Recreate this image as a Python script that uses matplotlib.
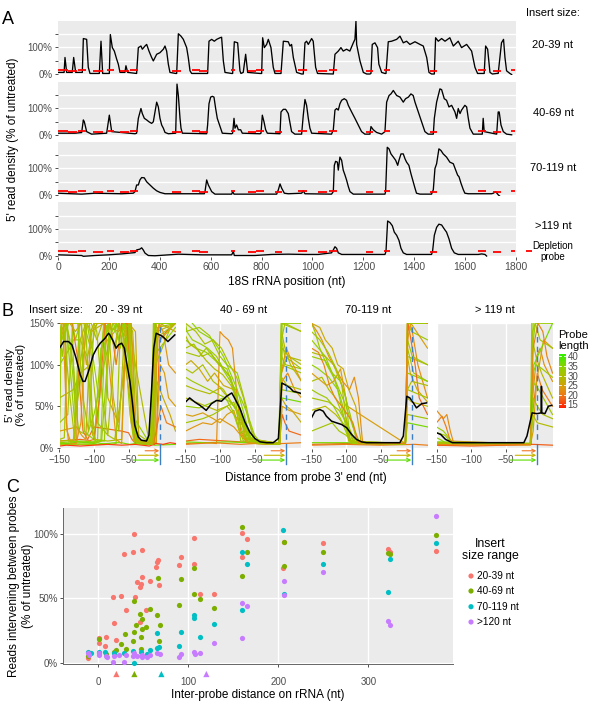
import matplotlib
matplotlib.use("Agg")
import matplotlib.pyplot as plt
import matplotlib.transforms as mtransforms
from matplotlib.colors import LinearSegmentedColormap, Normalize
import numpy as np

plt.rcParams["font.family"] = ["Liberation Sans", "DejaVu Sans"]

# ---------------- Panel A data ----------------
a_labels = ["20-39 nt", "40-69 nt", "70-119 nt", ">119 nt"]
a1_pos = [1,17,24,27.5,34,54,56,61.6,69.4,93,95.6,99.6,112.6,119,125.8,158.5,162.4,169,175.5,197.8,201.7,205.7,213.5,221.4,230.5,237,243.7,263,267,273.8,309,315.7,326,331.4,341.9,348.5,357.6,368,374.6,387.8,400.8,414,420.5,427,433.6,440,462.4,466.4,473,483.4,492.6,505.6,512,518.8,525.3,584.3,588,593.4,603.9,614.4,623.6,636.7,643,649.8,656.3,682.5,686.4,693,706,708.7,715,719,728,737.5,745.4,794,800.4,804.3,810.9,820,826.6,837,846,852.8,872.5,876.4,885.6,905,911.7,918,924.8,937.9,957.5,964,970.6,977,983.7,996.8,1003,1012.5,1020,1075,1082,1088.5,1101.6,1112,1121,1134,1147,1160.6,1167,1171,1173.7,1186.8,1199.9,1213,1226,1230,1235,1245.7,1256,1261,1272,1285,1289,1298,1311,1331,1344,1357,1370,1383,1403,1422.6,1435.6,1449,1458,1468,1479,1484,1494.6,1507.7,1521,1540,1553.6,1573,1586,1606,1625.6,1638.7,1649,1671,1675,1680.6,1688.5,1697.7,1707,1724,1730,1743,1751,1756.6,1763,1776,1783]
a1_val = [6,6,6,62,6,6,6,62,6,6,6,133,130,25,2,2,2,123,2,2,2,148,99,86,56,37,6,6,31,6,2,99,105,93,105,111,86,62,49,74,80,93,105,86,37,6,2,2,151,142,130,99,62,12,2,2,2,123,130,123,130,136,138,49,6,2,2,121,117,86,12,2,6,74,6,2,2,136,99,111,130,99,25,2,2,2,123,121,105,111,62,6,0,0,117,123,111,133,123,25,2,0,0,74,86,99,86,93,86,117,130,198,111,49,6,0,0,2,111,117,99,37,6,2,2,121,123,130,142,117,123,111,121,111,105,62,6,0,0,136,123,133,123,136,105,123,99,111,86,25,2,2,2,105,93,6,0,2,2,117,130,62,12,2,-2]

a2_pos = [1.3,66.8,93,99.6,103.5,112.6,132,191.2,201.7,211,302.6,309,315.7,326,331.4,339.3,348.5,357.6,368,374.6,381,387.8,394.3,400.8,407.4,414,420.5,433.6,462.4,467.7,473,479.5,483.4,488.6,584.3,588,593.4,600,606.5,613,619.6,626,632.7,639,645.8,682.5,686.4,691.7,695.6,702,708.7,717.9,724.4,794,797.8,803,809.6,816,822.7,872.5,876.4,885.6,894.7,905,912,918,931,957.5,964,970.6,977,983.7,990,997,1075,1082,1088.5,1095,1101.6,1108,1114.7,1125,1134,1141,1154,1167,1180,1193,1206,1226,1230,1239,1252,1272,1285,1291.6,1301,1308.6,1317.8,1331,1344,1357,1366,1377,1387,1396,1403,1416,1429,1442,1455,1475,1479,1488,1494.6,1501,1507.7,1518,1527,1536.5,1547,1560,1566.7,1573,1580,1586,1599,1606,1612.5,1619,1632,1667.5,1671,1675,1724,1730,1734,1741,1750,1763,1783]
a2_val = [6,6,8.6,56,49,12,2.5,6,74,12,4,6,62,99,80,62,56,49,43,49,86,123,105,62,37,25,9,4,6,191,148,62,25,6,4,37,117,142,145,142,99,62,43,25,6,4,6,62,25,37,19,19,6,4,6,74,49,19,6,4,86,96,96,80,43,12,2.5,2.5,74,133,111,62,25,6,2.5,19,93,99,93,117,130,136,130,111,86,62,37,12,2.5,2.5,31,19,9,2.5,12,123,148,154,167,148,142,123,136,142,154,148,123,86,49,12,2.5,2.5,62,123,148,173,170,136,130,105,111,86,62,99,80,93,111,105,62,25,2.5,2.5,62,12,2.5,86,86,37,12,2.5,0]

a3_pos = [1.3,93,145,250,296,302.6,309,315.7,322,328.8,339,348.5,361.5,374.6,387.8,400.8,420.5,575,577.7,584.3,590.8,604,617,682.5,686.4,691.7,859.4,866,872.5,879,889.5,905,957.5,964,970.6,1075,1082,1086,1091,1098,1101.6,1108,1114.7,1121,1128,1134,1141,1147.5,1160.6,1285,1287.6,1294,1301,1308.6,1318,1327,1335,1340,1348,1357,1363.6,1370,1379,1387,1396,1403,1409,1422.6,1468,1475,1481.5,1488,1497,1505,1514,1527,1540,1553.6,1563,1570.6,1576,1584,1593,1599,1612.5,1704,1711,1720,1730,1741]
a3_val = [6,2.5,6,4,6,12,37,37,56,65,64,49,37,25,15,9,4,4,12,56,37,12,2.5,2.5,12,2.5,2.5,19,41,25,6,4,6,15,4,2.5,12,111,126,123,93,142,130,93,74,56,31,12,2.5,2.5,12,179,173,154,142,130,111,130,154,154,136,123,111,80,49,25,6,2.5,2.5,19,99,117,173,167,154,142,123,117,93,74,68,43,19,6,4,4,6,12,0,-9]

a4_pos = [1.3,93,99.6,145,198,250,302.6,309,322,328.8,335,342,355,381,473,565,682.5,689,693,774,840,905,970.6,1023,1075,1082,1088.5,1095,1101.6,1115,1285,1289,1295.5,1304.7,1314,1321.7,1331,1340,1348,1357,1370,1468,1472,1479,1488,1497,1507.7,1518,1527,1536.5,1547,1557.5,1573,1652,1665,1678,1684.5]
a4_val = [2.5,0,-3,0,2.5,6,11,21,24,29,21,9,0,-1,5,2.5,2.5,15,0,0,4,5,4,4,10,21,33,27,10,4,4,15,130,124,112,88,76,57,27,10,4,4,15,76,106,118,115,100,88,63,27,10,4,4,6,4,-2]

probe_start = [1,38,77,139,191,244,283,447,525,554,679,748,778,853,944,1023,1065,1209,1282,1462,1649,1711,1779]
probe_end = [38,73,109,178,221,279,316,483,558,588,696,778,811,882,977,1056,1098,1239,1305,1488,1682,1741,1796]
probe_level = [16,12,16,12,16,12,16,12,16,12,16,12,16,12,16,12,16,12,16,12,16,12,16]

# ---------------- Panel B data ----------------
b_titles = ["20 - 39 nt", "40 - 69 nt", "70-119 nt", "> 119 nt"]

b1_len = [33,30,32,22,28,34,18,26,31,31,33,24,36,29,15,32,32,31,30,23,33,29,20,32,34,27]
b1_x = [
[-150,-140,-135,-128,-122,-110,-100,-88,-75,-60,-52,-45,-38,-20,-16,-12,18],
[-150,-143,-138,-130,-118,-105,-95,-80,-70,-58,-50,-44,-35,-18,-14,-10,18],
[-150,-132,-126,-115,-100,-92,-85,-70,-62,-55,-48,-42,-30,-16,-13,18],
[-150,-142,-140,-137,-125,-122,-110,-95,-70,-50,-46,-40,-20,-15,-12,-5,18],
[-150,-130,-120,-105,-102,-98,-80,-60,-55,-48,-42,-15,-11,0,18],
[-150,-100,-95,-90,-70,-65,-58,-50,-44,-40,-17,-14,18],
[-150,-120,-110,-100,-60,-50,-45,-40,-25,-10,-5,5,18],
[-150,-110,-105,-95,-85,-80,-65,-50,-40,-35,-20,-13,-9,0,10,18],
[-150,-148,-140,-130,-125,-118,-110,-100,-60,-52,-46,-42,-18,-12,18],
[-150,-90,-80,-75,-68,-62,-55,-48,-44,-38,-16,-12,-8,18],
[-150,-135,-130,-120,-110,-105,-98,-85,-78,-70,-60,-50,-45,-20,-15,-10,18],
[-150,-125,-118,-112,-105,-100,-90,-65,-58,-52,-46,-40,-14,-10,-4,2,8,18],
[-150,-140,-130,-120,-110,-100,-95,-90,-80,-70,-60,-55,-48,-40,-16,-13,18],
[-150,-125,-100,-75,-60,-50,-40,-20,-14,-9,18],
[-150,-140,-120,-100,-80,-60,-40,-30,-20,-10,0,10,18],
[-150,-118,-114,-108,-100,-92,-80,-60,-52,-46,-40,-17,-13,18],
[-150,-146,-140,-133,-127,-120,-112,-104,-96,-88,-80,-72,-64,-56,-48,-42,-36,-18,-14,-11,18],
[-150,-138,-131,-124,-116,-108,-100,-92,-84,-76,-68,-60,-50,-44,-40,-16,-12,18],
[-150,-144,-136,-128,-120,-112,-104,-96,-88,-80,-72,-64,-56,-50,-43,-17,-13,18],
[-150,-145,-139,-133,-126,-119,-112,-105,-98,-91,-84,-76,-68,-60,-53,-46,-40,-16,-12,-6,0,8,18],
[-150,-147,-141,-135,-128,-121,-114,-107,-100,-93,-86,-79,-72,-65,-58,-51,-46,-41,-16,-12,18],
[-150,-130,-120,-112,-104,-96,-88,-80,-72,-64,-56,-48,-42,-15,-11,18],
[-150,-142,-132,-124,-116,-108,-100,-92,-84,-76,-68,-60,-52,-45,-39,-14,-10,-3,5,18],
[-150,-145,-137,-129,-121,-113,-105,-97,-89,-81,-73,-65,-57,-49,-43,-17,-13,18],
[-150,-120,-100,-90,-85,-80,-74,-68,-62,-56,-50,-44,-38,-16,-12,18],
[-150,-143,-135,-127,-119,-111,-103,-95,-87,-79,-71,-63,-55,-48,-42,-15,-11,-4,18],
]
b1_y = [
[140,150,130,60,20,15,40,90,140,155,150,60,10,6,40,160,160],
[10,12,150,160,160,120,30,15,10,80,150,140,8,5,150,160,155],
[160,160,8,6,6,100,150,160,160,120,40,8,5,4,160,160],
[150,150,30,8,8,150,160,160,150,130,60,10,5,5,120,150,140],
[60,70,90,100,15,10,8,10,130,150,8,6,140,150,160],
[5,6,8,120,140,160,160,130,20,6,5,110,145],
[8,10,9,25,20,18,10,5,4,6,130,140,150],
[150,150,140,145,150,60,30,150,140,8,5,4,80,60,40,20],
[5,140,150,100,50,90,150,160,160,140,100,8,5,150,150],
[4,4,5,4,5,140,150,150,120,6,5,6,145,150],
[100,120,130,130,110,60,8,8,150,160,155,150,40,6,5,150,160],
[20,25,15,10,140,150,150,140,145,135,30,8,5,6,100,90,60,50],
[6,5,6,7,6,5,6,5,5,6,6,5,4,5,4,3,4],
[160,160,160,160,160,150,100,6,5,140,150],
[2,3,2,3,4,3,4,3,2,5,4,6,5],
[150,150,20,15,10,60,150,160,150,90,8,4,150,160],
[150,110,150,160,130,150,160,120,150,160,140,160,150,130,100,40,6,5,90,160,160],
[30,40,150,155,60,20,150,155,150,160,150,140,150,60,7,5,150,155],
[155,150,70,10,130,150,160,140,60,15,100,150,160,150,20,5,130,150],
[150,150,20,5,5,30,150,155,150,160,150,80,10,5,150,150,10,5,60,150,140,100,90],
[40,150,160,100,30,150,160,150,100,60,150,160,150,130,150,140,40,6,4,160,150],
[8,9,100,150,150,130,150,160,60,20,140,150,8,5,100,160],
[160,150,150,110,20,8,10,60,150,150,100,150,150,30,5,4,20,50,30,25],
[150,130,150,155,150,160,30,6,8,100,150,155,150,145,10,4,150,150],
[6,8,7,9,120,150,140,150,120,150,110,30,5,4,150,150],
[120,150,150,140,150,100,140,150,150,160,120,150,100,60,8,5,150,130,150],
]

b2_len = [33,30,32,22,28,34,18,26,31,31,33,24,36,20,29,31,32,30,23,33,29]
b2_x = [
[-150,-135,-120,-100,-85,-70,-60,-50,-40,-15,-11,-5,18],
[-150,-140,-125,-110,-95,-80,-65,-55,-45,-14,-10,0,18],
[-150,-130,-115,-100,-90,-75,-62,-52,-14,-11,18],
[-150,-120,-105,-100,-95,-88,-82,-75,-70,-60,-14,-10,-2,8,18],
[-150,-135,-120,-105,-90,-80,-70,-58,-48,-14,-11,-6,2,18],
[-150,-140,-130,-110,-95,-85,-75,-65,-55,-13,-10,18],
[-150,-130,-110,-90,-70,-50,-30,-14,-10,-6,0,18],
[-150,-142,-130,-118,-108,-95,-80,-70,-62,-14,-11,-4,4,18],
[-150,-125,-110,-100,-90,-80,-75,-68,-58,-14,-11,18],
[-150,-130,-120,-105,-95,-85,-78,-70,-14,-11,-6,18],
[-150,-148,-140,-128,-118,-105,-95,-85,-75,-60,-14,-11,18],
[-150,-140,-125,-110,-100,-90,-80,-72,-60,-14,-10,0,18],
[-150,-120,-90,-60,-30,-14,-11,18],
[-150,-130,-110,-90,-70,-50,-30,-10,18],
[-150,-135,-115,-100,-88,-76,-66,-56,-14,-11,-3,18],
[-150,-138,-126,-114,-102,-90,-80,-70,-62,-54,-14,-11,-5,18],
[-150,-140,-128,-116,-104,-92,-82,-74,-66,-14,-11,18],
[-150,-135,-122,-110,-98,-86,-76,-66,-58,-48,-14,-11,-6,18],
[-150,-138,-125,-112,-100,-90,-80,-70,-60,-14,-11,-4,6,18],
[-150,-130,-110,-95,-85,-75,-65,-55,-45,-14,-11,18],
[-150,-144,-132,-120,-108,-96,-84,-74,-64,-14,-11,-3,18],
]
b2_y = [
[130,120,115,100,80,60,40,15,5,4,150,160,150],
[95,90,100,80,70,50,30,10,5,5,120,110,100],
[140,145,135,110,100,90,50,10,5,160,160],
[5,6,5,140,135,130,120,60,20,8,4,80,90,70,60],
[60,55,50,45,50,40,30,15,5,4,140,120,100,80],
[160,150,140,130,110,90,70,40,8,4,150,155],
[8,10,9,8,7,6,5,5,40,30,20,15],
[100,105,95,80,90,75,70,40,10,5,60,50,45,30],
[30,35,40,45,50,55,40,20,6,4,100,90],
[115,110,120,105,95,85,60,8,5,130,110,95],
[150,140,130,125,120,110,95,85,60,10,5,150,140],
[40,38,42,35,30,40,45,20,6,4,50,45,40],
[7,6,7,6,5,5,60,55],
[4,5,6,5,4,5,4,5,6],
[75,70,65,72,60,45,25,8,5,90,110,105],
[120,125,110,115,100,95,70,45,20,6,4,110,100,95],
[85,80,75,70,65,60,45,25,8,5,70,65],
[150,140,125,130,120,100,85,60,30,8,5,130,150,140],
[20,25,30,28,35,30,25,15,6,4,90,120,100,80],
[50,48,55,60,55,45,30,12,5,4,150,150],
[135,125,118,105,95,88,75,55,12,5,85,75,70],
]

b3_len = [33,30,32,22,28,34,18,26,31,31,36,20,24,33,31,32,29,21]
b3_x = [
[-150,-140,-130,-120,-110,-100,-90,-80,-14,-11,-5,18],
[-150,-135,-125,-115,-105,-95,-88,-14,-11,18],
[-150,-145,-138,-128,-118,-108,-98,-90,-14,-11,-2,18],
[-150,-142,-135,-125,-115,-105,-95,-88,-82,-76,-14,-11,-4,4,18],
[-150,-130,-115,-100,-92,-14,-11,-5,18],
[-150,-140,-125,-112,-104,-96,-14,-11,18],
[-150,-100,-50,-14,-10,-6,0,6,18],
[-150,-138,-130,-120,-112,-104,-96,-86,-78,-14,-11,-7,3,18],
[-150,-135,-120,-110,-100,-90,-14,-11,18],
[-150,-125,-110,-96,-86,-14,-11,18],
[-150,-100,-50,-14,-11,18],
[-150,-100,-50,0,18],
[-150,-128,-118,-108,-98,-14,-11,-6,18],
[-150,-130,-120,-108,-100,-94,-14,-11,18],
[-150,-138,-126,-114,-104,-94,-84,-14,-11,-4,18],
[-150,-140,-128,-118,-108,-98,-90,-14,-11,18],
[-150,-130,-118,-106,-96,-14,-11,-5,18],
[-150,-140,-132,-124,-116,-106,-98,-90,-82,-14,-11,-6,18],
]
b3_y = [
[130,120,110,90,70,50,25,6,5,150,140,130],
[80,85,70,60,40,20,6,5,110,100],
[150,140,120,100,85,60,30,6,5,120,90,80],
[150,140,130,110,95,80,70,85,60,6,5,160,140,100,60],
[45,50,40,25,6,5,60,55,50],
[100,95,85,70,40,8,5,90,80],
[4,5,4,5,150,130,100,60,40],
[150,145,130,120,100,95,70,50,6,5,110,90,70,55],
[20,25,30,20,15,6,5,40,35],
[60,55,45,25,6,5,70,60],
[6,6,5,5,30,25],
[3,4,3,4,3],
[90,75,80,95,50,5,130,150,120],
[110,105,90,80,60,6,5,150,150],
[140,130,115,95,70,40,6,5,130,110,100],
[70,65,60,50,35,15,5,4,150,150],
[115,110,100,75,8,5,70,80,75],
[120,115,100,75,60,50,40,30,6,5,150,160,150],
]

b4_len = [33,22,20,34,30,28,33,24,36,17,32,31,33,21,29]
b4_x = [
[-150,-140,-130,-125,-14,-10,-6,18],
[-150,-145,-140,-135,-130,-125,-14,-11,-5,0,6,18],
[-150,-142,-136,-130,-14,-11,-4,3,18],
[-150,-145,-135,-14,-12,-8,18],
[-150,-100,-50,-13,-10,-4,4,18],
[-150,-120,-60,-13,-11,-6,2,18],
[-150,-90,-14,-11,-7,18],
[-150,-100,-14,-10,-5,5,18],
[-150,-60,-13,-9,18],
[-150,-100,-50,-10,18],
[-150,-138,-128,-14,-11,-2,18],
[-150,-100,-50,-14,-11,-7,0,18],
[-150,-90,-14,-11,-5,3,18],
[-150,-100,-14,-10,-3,4,10,18],
[-150,-60,-14,-11,-4,18],
]
b4_y = [
[25,20,10,5,5,150,160,150],
[45,40,35,40,20,5,4,60,110,120,100,80],
[30,38,25,8,4,40,90,70,50],
[12,10,5,4,150,160,160],
[5,6,5,4,60,50,40,35],
[4,5,4,5,130,110,90,60],
[6,6,5,120,150,150],
[3,4,3,20,80,130,120],
[7,6,5,100,150],
[3,2,3,4,3],
[18,15,6,5,80,70,40],
[5,5,4,4,140,150,130,120],
[4,5,4,90,100,95,85],
[4,3,4,120,150,140,110,90],
[6,6,5,40,30,25],
]

b1_mean_x = [-150,-144,-137,-132,-126,-120,-116,-113,-108,-101,-96,-91,-84,-79,-77,-72,-68,-64.5,-60,-56,-53,-48,-44.5,-41,-36,-31.5,-24,-20.5,-17,-13.5,-10,-5,-0.5,7,12,17]
b1_mean_y = [120,128,128,124,108,88,80,80,92,112,120,126,132,138,136,128,120,124,126,120,104,80,55,27,13,9,8,15,64,120,138,136,134,128,132,136]
b2_mean_x = [-150,-144,-136.5,-129,-120,-112.5,-105,-98,-90.5,-83,-79,-71,-64,-57,-49.5,-42,-32.5,-23,-15.5,-10.5,-6,1.5,6,15.5,18]
b2_mean_y = [55,60,55,51,45,53,57,56,62,66,60,47,31,19,11,7,6,6,11,78,76,72,68,66,65]
b3_mean_x = [-150,-145,-138,-133,-128.5,-121,-114,-106.5,-99,-92,-85,-77.5,-70,-22,-17,-12,-7.5,-2.5,2,9.5,16.5]
b3_mean_y = [36,44,46,44,38,32,30,28,24,16,10,7,6,6,14,62,60,54,48,53,54]
b4_mean_x = [-150,-144,-137,-127,-106,-57,-23.5,-19,-11.5,-4.5,1.5,2,2.5,7,12,17]
b4_mean_y = [18,16,10,6,6,6,6,14,42,41,42,74,42,41,50,51]

legend_lengths = [15, 20, 25, 30, 35, 40]

# ---------------- Panel C data ----------------
c_groups = ["20-39 nt", "40-69 nt", "70-119 nt", ">120 nt"]
c_colors = ["#F8766D", "#7CAE00", "#00BFC4", "#C77CFF"]
c20_x = [-12,1,1,7,8,16,17,20,25,29,31,39,40,41,43,46,47,48,49,46,53,57,64,65,66,67,90,92,106,106,113,128,160,160,165,206,205,250,322,324,375]
c20_y = [4.1,19.6,15.8,12.8,20.4,50.8,31.1,17.6,51.5,84.7,40.8,86,99.5,51,62.8,58.7,61.2,66.3,87.2,31.6,41.3,63.8,74.5,78,79.6,60.5,75.8,82.1,96.9,76.3,53.6,53.6,100.8,82.1,95.9,94,73.2,93.1,88.5,86,86.7]
c40_x = [-12,1,8,17,20,25,29.5,31,39,40,40,42,46,47,47,49,49,53,57,65,66,67,68,90,92,106,106,113,128,160,160,165,206,206,250,322,324,375]
c40_y = [5.6,18.4,6.9,8.2,10.2,14.5,22.2,10.7,17.1,24,47.7,29.1,38,20.2,11.2,33.7,26.5,28,42.1,37.5,66.1,17.1,29.1,45.2,65,73.7,53.6,49.7,42.3,105,67.3,86,93.6,75.3,86,85.2,84.2,99.2]
c70_x = [-12,-8.5,1,7,17,28,39,40,47,54,57,65,65,67,90,92,106,106,113,128,160,160,165,205,206,250,322,324,375]
c70_y = [8.7,7.7,8.7,8.2,7.7,7.7,9.4,0,8.7,6.9,10,11.5,23,12,13.3,24,37.5,35,20.2,30.4,85.5,40.8,76.5,102.6,53.6,76.5,54.8,80.4,93.1]
c120_x = [-12,-10,1,1,8,9.6,16,17,23,28,31,39,40,42.6,48,49,54,57,65,68,90,92,106,107,113,128,160,160,165,206,206,250,322,324,375]
c120_y = [7.7,6.1,7.7,6.1,5.6,4.3,1,5.1,6.1,1,6.1,5.6,7.7,5.6,6.1,4.3,4.3,6.1,7.7,6.9,4.3,6.9,8.7,6.9,7.4,15.8,46.4,19.4,43.9,63.8,52.8,70.2,32.4,29.1,114]
c_tri_x = [20, 40, 70, 120]

# ---------------- figure ----------------
W, H = 600.0, 710.0
fig = plt.figure(figsize=(6, 7.1), dpi=100)


def add_ax(x0, y0, x1, y1):
    return fig.add_axes([x0 / W, 1 - y1 / H, (x1 - x0) / W, (y1 - y0) / H])


BG = "#EBEBEB"
TICK_C = "#333333"
LAB_C = "#4D4D4D"


def base_style(ax, labelsize=7):
    ax.set_facecolor(BG)
    for s in ax.spines.values():
        s.set_visible(False)
    ax.tick_params(axis="both", colors=TICK_C, labelcolor=LAB_C, length=2.5,
                   width=0.6, labelsize=labelsize, pad=1.5)
    ax.set_axisbelow(True)


# ---- Panel A ----
a_rows = [(20.7, 75.2), (81.7, 136.0), (141.7, 196.0), (202.4, 256.7)]
a_traces = [(a1_pos, a1_val), (a2_pos, a2_val), (a3_pos, a3_val), (a4_pos, a4_val)]
for i, ((y0, y1), (p, v)) in enumerate(zip(a_rows, a_traces)):
    ax = add_ax(58, y0, 516, y1)
    base_style(ax)
    ax.set_xlim(0, 1800)
    ax.set_ylim(-4.5, 200)
    for g in [0, 50, 100, 150]:
        ax.axhline(g, color="white", lw=1.0, zorder=0)
    ax.set_yticks([0, 50, 100, 150])
    ax.set_yticklabels(["0%", "", "100%", ""])
    ax.set_xticks(list(range(0, 1801, 200)))
    ax.tick_params(axis="x", labelsize=7.5)
    if i < 3:
        ax.tick_params(axis="x", length=0, labelbottom=False)
    ax.plot(p, v, color="black", lw=0.95, zorder=3)
    for s, e, l in zip(probe_start, probe_end, probe_level):
        ax.plot([s, e], [l, l], color="#FF0000", lw=1.3, solid_capstyle="butt", zorder=4)

# ---- Panel B ----
cmap = LinearSegmentedColormap.from_list(
    "probe", [(0.0, "#FF2000"), (0.18, "#F26A18"), (0.36, "#E0980E"),
              (0.54, "#B6B800"), (0.75, "#93D000"), (1.0, "#30F000")])
norm = Normalize(13, 41)

b_left = [59.5, 185.5, 311.5, 436.5]
b_w = 116
b_top, b_bot = 323.3, 449.0
b_sets = [(b1_len, b1_x, b1_y, b1_mean_x, b1_mean_y),
          (b2_len, b2_x, b2_y, b2_mean_x, b2_mean_y),
          (b3_len, b3_x, b3_y, b3_mean_x, b3_mean_y),
          (b4_len, b4_x, b4_y, b4_mean_x, b4_mean_y)]
arrow_start = [-26, -36, -43]
arrow_y = [-0.014, -0.05, -0.088]
arrow_col = ["#F07828", "#C8B400", "#5ADC00"]
BLUE = "#3D7EC5"
for k, (lens, xs_all, ys_all, mx, my) in enumerate(b_sets):
    ax = add_ax(b_left[k], b_top, b_left[k] + b_w, b_bot)
    base_style(ax)
    ax.set_xlim(-150, 18)
    ax.set_ylim(-1.6, 150)
    ax.set_xticks([-150, -100, -50])
    ax.set_xticklabels(["\u2212150", "\u2212100", "\u221250"])
    ax.set_yticks([0, 50, 100, 150])
    if k == 0:
        ax.set_yticklabels(["0%", "50%", "100%", "150%"])
    else:
        ax.tick_params(axis="y", length=0, labelleft=False)
    ax.grid(True, color="white", lw=1.0)
    for L, xs, ys in zip(lens, xs_all, ys_all):
        ax.plot(xs, ys, color=cmap(norm(L)), lw=0.85, zorder=2)
    ax.plot(mx, my, color="black", lw=1.1, zorder=5)
    ax.axvline(-5, color=BLUE, ls=(0, (4, 3)), lw=1.0, zorder=6)
    trans = mtransforms.blended_transform_factory(ax.transData, ax.transAxes)
    ax.plot([-5, -5], [-0.12, 0], color=BLUE, lw=1.0, transform=trans, clip_on=False)
    for xs0, yy, col in zip(arrow_start, arrow_y, arrow_col):
        ax.annotate("", xy=(-5.5, yy), xytext=(xs0, yy), xycoords=trans, textcoords=trans,
                    arrowprops=dict(arrowstyle="->", color=col, lw=0.8, shrinkA=0,
                                    shrinkB=0, mutation_scale=6),
                    annotation_clip=False)

# colourbar
cax = add_ax(559.3, 354.3, 565.5, 408.3)
grad = np.linspace(13, 41, 200).reshape(-1, 1)
cax.imshow(grad, aspect="auto", cmap=cmap, norm=norm, origin="lower", extent=[0, 1, 13, 41])
cax.set_xlim(0, 1)
cax.set_ylim(13, 41)
cax.set_xticks([])
cax.yaxis.tick_right()
cax.set_yticks(legend_lengths)
cax.set_yticklabels([str(v) for v in legend_lengths])
cax.tick_params(axis="y", length=0, labelsize=7, labelcolor=LAB_C, pad=1.5)
for s in cax.spines.values():
    s.set_visible(False)
for tv in legend_lengths:
    cax.plot([0, 0.2], [tv, tv], color="white", lw=0.6)
    cax.plot([0.8, 1], [tv, tv], color="white", lw=0.6)

# ---- Panel C ----
axc = add_ax(63.3, 508.3, 453.3, 663.5)
base_style(axc)
axc.set_xlim(-39, 394.4)
axc.set_ylim(-0.4, 119.7)
axc.grid(True, color="white", lw=1.0)
axc.set_xticks([0, 100, 200, 300])
axc.set_yticks([0, 50, 100])
axc.set_yticklabels(["0%", "50%", "100%"])
axc.tick_params(axis="x", pad=7)
for side in ["left", "bottom"]:
    axc.spines[side].set_visible(True)
    axc.spines[side].set_color("#666666")
    axc.spines[side].set_linewidth(0.7)
for (xs, ys), col in zip([(c20_x, c20_y), (c40_x, c40_y), (c70_x, c70_y), (c120_x, c120_y)], c_colors):
    axc.scatter(xs, ys, s=14, color=col, linewidths=0, zorder=3, clip_on=False)
transc = mtransforms.blended_transform_factory(axc.transData, axc.transAxes)
axc.scatter(c_tri_x, [-0.068] * 4, marker="^", s=20, color=c_colors, linewidths=0,
            transform=transc, clip_on=False, zorder=3)

# ---- overlay texts ----
ov = fig.add_axes([0, 0, 1, 1])
ov.set_xlim(0, W)
ov.set_ylim(H, 0)
ov.set_axis_off()
ov.patch.set_alpha(0)


def t(x, y, s, **kw):
    ov.text(x, y, s, ha=kw.pop("ha", "center"), va=kw.pop("va", "center"), **kw)


t(7.5, 19, "A", size=13)
t(7.5, 312, "B", size=13)
t(13, 488, "C", size=13)

t(553, 13, "Insert size:", size=8)
for lab, yy in zip(a_labels, [45, 113, 168, 226]):
    t(553, yy, lab, size=8)
t(553, 251.5, "Depletion\nprobe", size=7, linespacing=1.05)
ov.plot([525.5, 532], [251, 251], color="#FF0000", lw=1.3, solid_capstyle="butt")
t(13, 139, "5' read density (% of untreated)", size=8.5, rotation=90)
t(287, 282, "18S rRNA position (nt)", size=8.5)

t(56, 310, "Insert size:", size=8)
for lab, xx in zip(b_titles, [118.5, 243.5, 368, 495]):
    t(xx, 310, lab, size=8)
t(15.5, 385, "5' read density\n(% of untreated)", size=8.2, rotation=90, linespacing=1.05)
t(306, 478, "Distance from probe 3' end (nt)", size=8.5)
t(558, 340.5, "Probe\nlength", size=8, ha="left", linespacing=1.1)

t(21, 586, "Reads intervening between probes\n(% of untreated)", size=8.5, rotation=90,
  linespacing=1.15)
t(258, 695, "Inter-probe distance on rRNA (nt)", size=8.5)
t(490, 550, "Insert\nsize range", size=8.8, linespacing=1.1)
leg_y = [576, 591, 606.7, 622]
ov.scatter([471] * 4, leg_y, s=14, color=c_colors, linewidths=0)
for lab, yy in zip(c_groups, leg_y):
    t(477, yy, lab, size=7.2, ha="left")

fig.savefig("out.png", dpi=100)
